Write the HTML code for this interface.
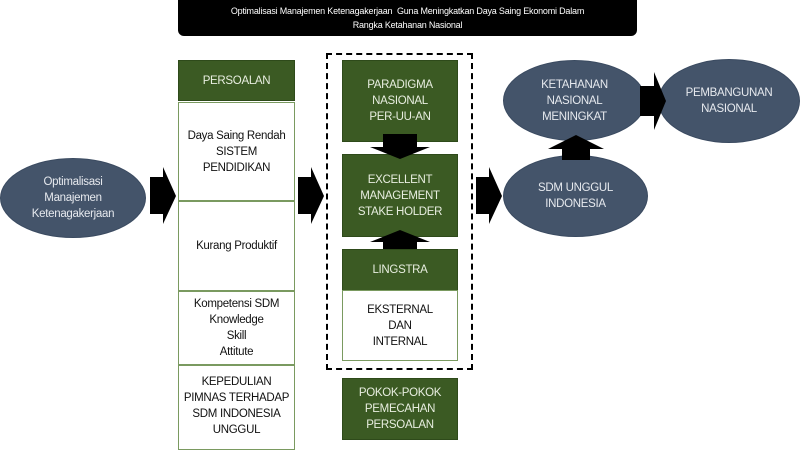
<!DOCTYPE html>
<html><head><meta charset="utf-8"><style>
body{margin:0;width:800px;height:445px;background:#fff;position:relative;overflow:hidden;font-family:"Liberation Sans Narrow","Liberation Sans",sans-serif;}
.a{position:absolute;box-sizing:border-box;display:flex;align-items:center;justify-content:center;text-align:center;font-size:11.5px;letter-spacing:-0.3px;line-height:16px;white-space:nowrap;}
.g{background:#3b5a23;color:#e8eee0;border:1px solid #2e4a1a;}
.w{background:#fff;color:#111;border:1px solid #7a9a60;}
.e{background:#44546a;color:#e6e9ee;border-radius:50%;border:1px solid #3a4a60;}
</style></head><body>
<div class="a" style="left:178px;top:-6px;width:459px;height:42px;background:#000;color:#fff;border-radius:0 0 6px 6px;font-size:9px;letter-spacing:-0.2px;line-height:14px;padding-top:6px;">Optimalisasi Manajemen Ketenagakerjaan&nbsp; Guna Meningkatkan Daya Saing Ekonomi Dalam<br>Rangka Ketahanan Nasional</div>

<div class="a e" style="left:0;top:158px;width:146px;height:80px;">Optimalisasi<br>Manajemen<br>Ketenagakerjaan</div>

<div class="a g" style="left:178px;top:60px;width:117px;height:41px;">PERSOALAN</div>
<div class="a w" style="left:178px;top:102px;width:117px;height:99px;">Daya Saing Rendah<br>SISTEM<br>PENDIDIKAN</div>
<div class="a w" style="left:178px;top:201px;width:117px;height:90px;">Kurang Produktif</div>
<div class="a w" style="left:178px;top:291px;width:117px;height:74px;">Kompetensi SDM<br>Knowledge<br>Skill<br>Attitute</div>
<div class="a w" style="left:178px;top:365px;width:117px;height:85px;padding-bottom:4px;">KEPEDULIAN<br>PIMNAS TERHADAP<br>SDM INDONESIA<br>UNGGUL</div>

<div style="position:absolute;left:326px;top:53px;width:147px;height:317px;border:2px dashed #000;box-sizing:border-box;"></div>
<div class="a g" style="left:342px;top:60px;width:116px;height:82px;">PARADIGMA<br>NASIONAL<br>PER-UU-AN</div>
<div class="a g" style="left:342px;top:154px;width:116px;height:83px;">EXCELLENT<br>MANAGEMENT<br>STAKE HOLDER</div>
<div class="a g" style="left:342px;top:249px;width:116px;height:42px;">LINGSTRA</div>
<div class="a w" style="left:342px;top:290px;width:116px;height:71px;">EKSTERNAL<br>DAN<br>INTERNAL</div>
<div class="a g" style="left:342px;top:378px;width:116px;height:62px;">POKOK-POKOK<br>PEMECAHAN<br>PERSOALAN</div>

<div class="a e" style="left:503px;top:60px;width:143px;height:81px;">KETAHANAN<br>NASIONAL<br>MENINGKAT</div>
<div class="a e" style="left:503px;top:155px;width:145px;height:82px;">SDM UNGGUL<br>INDONESIA</div>
<div class="a e" style="left:658px;top:59px;width:142px;height:84px;">PEMBANGUNAN<br>NASIONAL</div>

<svg width="800" height="445" style="position:absolute;left:0;top:0;">
<g fill="#000">
<polygon points="150,177 163,177 163,167 176,196 163,224 163,214 150,214"/>
<polygon points="298,177 311,177 311,167 324,196 311,224 311,214 298,214"/>
<polygon points="476,177 489,177 489,167 502,196 489,224 489,214 476,214"/>
<polygon points="383,134 417,134 417,147 430,147 400,159 370,147 383,147"/>
<polygon points="383,249 417,249 417,242 430,242 400,230 370,242 383,242"/>
<polygon points="562,160 590,160 590,149 604,149 576,135 548,149 562,149"/>
<polygon points="640,86 654,86 654,72 666,101 654,130 654,116 640,116"/>
</g>
</svg>
</body></html>
